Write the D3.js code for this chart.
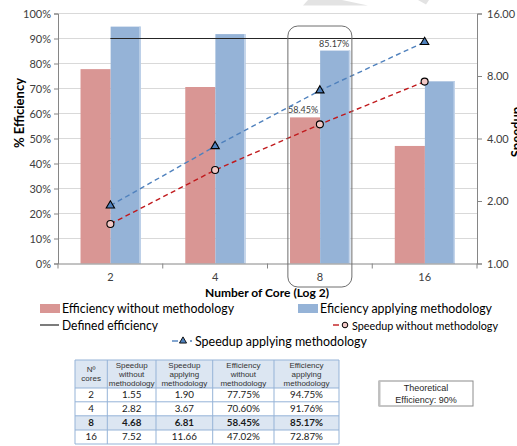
<!DOCTYPE html>
<html>
<head>
<meta charset="utf-8">
<script src="https://cdn.jsdelivr.net/npm/d3@7"></script>
<style>
  html, body { margin: 0; padding: 0; background: #fff; }
  svg { display: block; }
</style>
</head>
<body>
<svg id="chart" width="517" height="446"></svg>
<script>
// Core counts (x categories) and measured series
const cores = ["2", "4", "8", "16"];
const effWithout = [0.7775, 0.7060, 0.5845, 0.4702];
const effApplying = [0.9475, 0.9176, 0.8517, 0.7287];
const speedWithout = [1.55, 2.82, 4.68, 7.52];
const speedApplying = [1.90, 3.67, 6.81, 11.66];
const definedEff = 0.90;
const leftTicks = [0, 0.1, 0.2, 0.3, 0.4, 0.5, 0.6, 0.7, 0.8, 0.9, 1.0];
const rightTicks = [1, 2, 4, 8, 16];
const tableHeaders = ["Nº\ncores", "Speedup\nwithout\nmethodology", "Speedup\napplying\nmethodology", "Efficiency\nwithout\nmethodology", "Efficiency\napplying\nmethodology"];
const highlightCore = "8";

const svg = d3.select("#chart");
const FONT = "Lato, 'Open Sans', sans-serif";
const C = {
  red: "#D99694", blue: "#95B3D7", redLine: "#C0191C", blueLine: "#4F81BD",
  grid: "#D9D9D9", axis: "#868686", text: "#404040"
};

const plot = { left: 58, right: 477, top: 13.5, bottom: 263.5 };

const x = d3.scaleBand().domain(cores).range([plot.left, plot.right]).padding(0);
const bw = x.bandwidth();
const xs = d3.scaleBand().domain(["without", "applying"]).range([bw * 0.215, bw * 0.79]).padding(0);
const yL = d3.scaleLinear().domain([0, 1]).range([plot.bottom, plot.top]);
const yR = d3.scaleLog().base(2).domain([1, 16]).range([plot.bottom, plot.top]);
const cx = c => x(c) + bw / 2;

// decorative grey wedge at the top edge
svg.append("path").attr("d", "M308,0 L342,0 L368,5.5 L303,5.5 Z").attr("fill", "#E3E3E3");
svg.append("path").attr("d", "M418,0 L429,0 L426,4.5 Z").attr("fill", "#E3E3E3");

// gridlines
svg.append("g").selectAll("line").data(leftTicks.slice(1)).join("line")
  .attr("x1", plot.left).attr("x2", plot.right)
  .attr("y1", d => yL(d)).attr("y2", d => yL(d))
  .attr("stroke", C.grid).attr("stroke-width", 1);

// bars
const bars = svg.append("g");
cores.forEach((c, i) => {
  bars.append("rect").attr("x", x(c) + xs("without")).attr("width", xs.bandwidth())
    .attr("y", yL(effWithout[i])).attr("height", yL(0) - yL(effWithout[i])).attr("fill", C.red);
  bars.append("rect").attr("x", x(c) + xs("applying")).attr("width", xs.bandwidth())
    .attr("y", yL(effApplying[i])).attr("height", yL(0) - yL(effApplying[i])).attr("fill", C.blue);
  bars.append("rect").attr("x", x(c) + xs("applying") + xs.bandwidth() - 1.5).attr("width", 1.5)
    .attr("y", yL(effApplying[i])).attr("height", yL(0) - yL(effApplying[i])).attr("fill", "#C3D4EA");
});

// value labels for the highlighted core count
const hi = cores.indexOf(highlightCore);
svg.append("text").attr("x", x(highlightCore) + xs("without") + xs.bandwidth() / 2 - 2)
  .attr("y", yL(effWithout[hi]) - 4).attr("text-anchor", "middle")
  .attr("font-family", FONT).attr("font-size", 9).attr("fill", C.text)
  .text(d3.format(".2%")(effWithout[hi]));
svg.append("text").attr("x", x(highlightCore) + xs("applying") + xs.bandwidth() / 2 - 1)
  .attr("y", yL(effApplying[hi]) - 4).attr("text-anchor", "middle")
  .attr("font-family", FONT).attr("font-size", 9).attr("fill", C.text)
  .text(d3.format(".2%")(effApplying[hi]));

// defined efficiency line
svg.append("line").attr("x1", cx(cores[0])).attr("x2", cx(cores[cores.length - 1]))
  .attr("y1", yL(definedEff)).attr("y2", yL(definedEff))
  .attr("stroke", "#262626").attr("stroke-width", 1.2);

// speedup lines
const lineR = d3.line().x((d, i) => cx(cores[i])).y(d => yR(d));
svg.append("path").datum(speedApplying).attr("d", lineR).attr("fill", "none")
  .attr("stroke", C.blueLine).attr("stroke-width", 1.4).attr("stroke-dasharray", "5,3.5");
svg.append("path").datum(speedWithout).attr("d", lineR).attr("fill", "none")
  .attr("stroke", C.redLine).attr("stroke-width", 1.4).attr("stroke-dasharray", "5,3.5");

const tri = d3.symbol().type(d3.symbolTriangle).size(30);
svg.append("g").selectAll("path").data(speedApplying).join("path")
  .attr("d", tri).attr("transform", (d, i) => `translate(${cx(cores[i])},${yR(d)})`)
  .attr("fill", C.blueLine).attr("stroke", "#000").attr("stroke-width", 1.1);
svg.append("g").selectAll("circle").data(speedWithout).join("circle")
  .attr("cx", (d, i) => cx(cores[i])).attr("cy", d => yR(d)).attr("r", 3.5)
  .attr("fill", "#F2C8C6").attr("stroke", "#000").attr("stroke-width", 1.1);

// axes
const axL = svg.append("g").attr("transform", `translate(${plot.left},0)`)
  .call(d3.axisLeft(yL).tickValues(leftTicks).tickFormat(d3.format(".0%")).tickSize(4).tickPadding(3));
const axR = svg.append("g").attr("transform", `translate(${plot.right},0)`)
  .call(d3.axisRight(yR).tickValues(rightTicks).tickFormat(d3.format(".2f")).tickSize(5).tickPadding(5));
const axB = svg.append("g").attr("transform", `translate(0,${plot.bottom})`)
  .call(d3.axisBottom(x).tickSize(0).tickPadding(10));
// category boundary ticks on the x axis
svg.append("g").selectAll("line").data(cores.map(c => x(c)).concat([plot.right])).join("line")
  .attr("x1", d => d).attr("x2", d => d).attr("y1", plot.bottom).attr("y2", plot.bottom + 5)
  .attr("stroke", C.axis);

[axL, axR, axB].forEach(g => {
  g.select(".domain").attr("stroke", C.axis);
  g.selectAll(".tick line").attr("stroke", C.axis);
  g.selectAll(".tick text").attr("font-family", FONT).attr("font-size", 11).attr("fill", C.text);
});

// axis titles
svg.append("text").attr("transform", "translate(24,113) rotate(-90)").attr("text-anchor", "middle")
  .attr("font-family", FONT).attr("font-weight", "bold").attr("font-size", 13).attr("fill", "#000")
  .text("% Efficiency");
svg.append("text").attr("transform", "translate(521,132) rotate(-90)").attr("text-anchor", "middle")
  .attr("font-family", FONT).attr("font-weight", "bold").attr("font-size", 13).attr("fill", "#000")
  .text("Speedup");
svg.append("text").attr("x", 267).attr("y", 297).attr("text-anchor", "middle")
  .attr("font-family", FONT).attr("font-weight", "bold").attr("font-size", 12).attr("fill", "#000")
  .text("Number of Core (Log 2)");

// highlight frame around the 8-core group
svg.append("rect").attr("x", cx(highlightCore) - 32).attr("y", 26).attr("width", 64).attr("height", 261)
  .attr("rx", 10).attr("ry", 10).attr("fill", "none").attr("stroke", "#6E6E6E").attr("stroke-width", 1);

// legend
const lg = svg.append("g").attr("font-family", FONT).attr("font-size", 12.5).attr("fill", "#000");
const ltext = (xx, yy, w, s, fs) => lg.append("text").attr("x", xx).attr("y", yy)
  .attr("font-size", fs || 12.5)
  .attr("textLength", w).attr("lengthAdjust", "spacingAndGlyphs").text(s);
lg.append("rect").attr("x", 40).attr("y", 304).attr("width", 20).attr("height", 9).attr("fill", C.red);
ltext(62, 313, 172, "Efficiency without methodology");
lg.append("rect").attr("x", 298).attr("y", 304).attr("width", 20).attr("height", 9).attr("fill", C.blue);
ltext(320, 313, 172, "Eficiency applying methodology");
lg.append("line").attr("x1", 40).attr("x2", 59).attr("y1", 325).attr("y2", 325).attr("stroke", "#262626").attr("stroke-width", 1.2);
ltext(62, 329.5, 96, "Defined efficiency");
lg.append("line").attr("x1", 333).attr("x2", 339).attr("y1", 325).attr("y2", 325).attr("stroke", C.redLine).attr("stroke-width", 1.4);
lg.append("circle").attr("cx", 345).attr("cy", 325).attr("r", 2.8).attr("fill", "#F2C8C6").attr("stroke", "#000").attr("stroke-width", 1);
ltext(352, 329.5, 146, "Speedup without methodology", 12);
lg.append("line").attr("x1", 172).attr("x2", 178).attr("y1", 341).attr("y2", 341).attr("stroke", C.blueLine).attr("stroke-width", 1.4);
lg.append("path").attr("d", d3.symbol().type(d3.symbolTriangle).size(22))
  .attr("transform", "translate(183,341)").attr("fill", C.blueLine).attr("stroke", "#000").attr("stroke-width", 0.9);
lg.append("line").attr("x1", 190).attr("x2", 192).attr("y1", 341).attr("y2", 341).attr("stroke", C.blueLine).attr("stroke-width", 1.4);
ltext(195, 345.5, 172, "Speedup applying methodology");

// data table
const colX = [75, 107.3, 156, 212.7, 274, 339];
const rowY = [360, 388, 401.8, 415.8, 430, 444];
const rows = cores.map((c, i) => [c, speedWithout[i].toFixed(2), speedApplying[i].toFixed(2),
  d3.format(".2%")(effWithout[i]), d3.format(".2%")(effApplying[i])]);
const tb = svg.append("g");
tb.append("rect").attr("x", colX[0]).attr("y", rowY[0]).attr("width", colX[5] - colX[0]).attr("height", rowY[1] - rowY[0]).attr("fill", "#DCE6F2");
rows.forEach((r, i) => {
  if (r[0] === highlightCore) {
    tb.append("rect").attr("x", colX[0]).attr("y", rowY[i + 1]).attr("width", colX[5] - colX[0])
      .attr("height", rowY[i + 2] - rowY[i + 1]).attr("fill", "#DCE6F2");
  }
});
rowY.forEach(y => tb.append("line").attr("x1", colX[0]).attr("x2", colX[5]).attr("y1", y).attr("y2", y).attr("stroke", "#95B3D7").attr("stroke-width", 1));
colX.forEach(xx => tb.append("line").attr("x1", xx).attr("x2", xx).attr("y1", rowY[0]).attr("y2", rowY[5]).attr("stroke", "#95B3D7").attr("stroke-width", 1));
tableHeaders.forEach((h, j) => {
  const lines = h.split("\n");
  const mid = (colX[j] + colX[j + 1]) / 2;
  const t = tb.append("text").attr("x", mid).attr("text-anchor", "middle")
    .attr("font-family", "'Liberation Sans', Arial, sans-serif").attr("font-size", 8).attr("fill", "#333");
  const y0 = (rowY[0] + rowY[1]) / 2 - (lines.length - 1) * 4.4 + 2.8;
  lines.forEach((l, k) => t.append("tspan").attr("x", mid).attr("y", y0 + k * 8.8).text(l));
});
rows.forEach((r, i) => {
  r.forEach((v, j) => {
    tb.append("text").attr("x", (colX[j] + colX[j + 1]) / 2).attr("y", (rowY[i + 1] + rowY[i + 2]) / 2 + 3.4)
      .attr("text-anchor", "middle").attr("font-family", FONT).attr("font-size", 9.8)
      .attr("font-weight", r[0] === highlightCore ? "bold" : "normal").attr("fill", "#1a1a1a").text(v);
  });
});

// theoretical efficiency note
const note = svg.append("g");
note.append("rect").attr("x", 379).attr("y", 381).attr("width", 94).attr("height", 25)
  .attr("fill", "#fff").attr("stroke", "#8C8C8C").attr("stroke-width", 1);
note.append("line").attr("x1", 379.5).attr("x2", 379.5).attr("y1", 381).attr("y2", 406).attr("stroke", "#BFBFBF").attr("stroke-width", 2);
note.append("text").attr("x", 426).attr("y", 390.5).attr("text-anchor", "middle")
  .attr("font-family", "'Liberation Sans', Arial, sans-serif").attr("font-size", 9).attr("fill", "#262626").text("Theoretical");
note.append("text").attr("x", 426).attr("y", 402.5).attr("text-anchor", "middle")
  .attr("font-family", "'Liberation Sans', Arial, sans-serif").attr("font-size", 9).attr("fill", "#262626")
  .text("Efficiency: " + d3.format(".0%")(definedEff));
</script>
</body>
</html>
